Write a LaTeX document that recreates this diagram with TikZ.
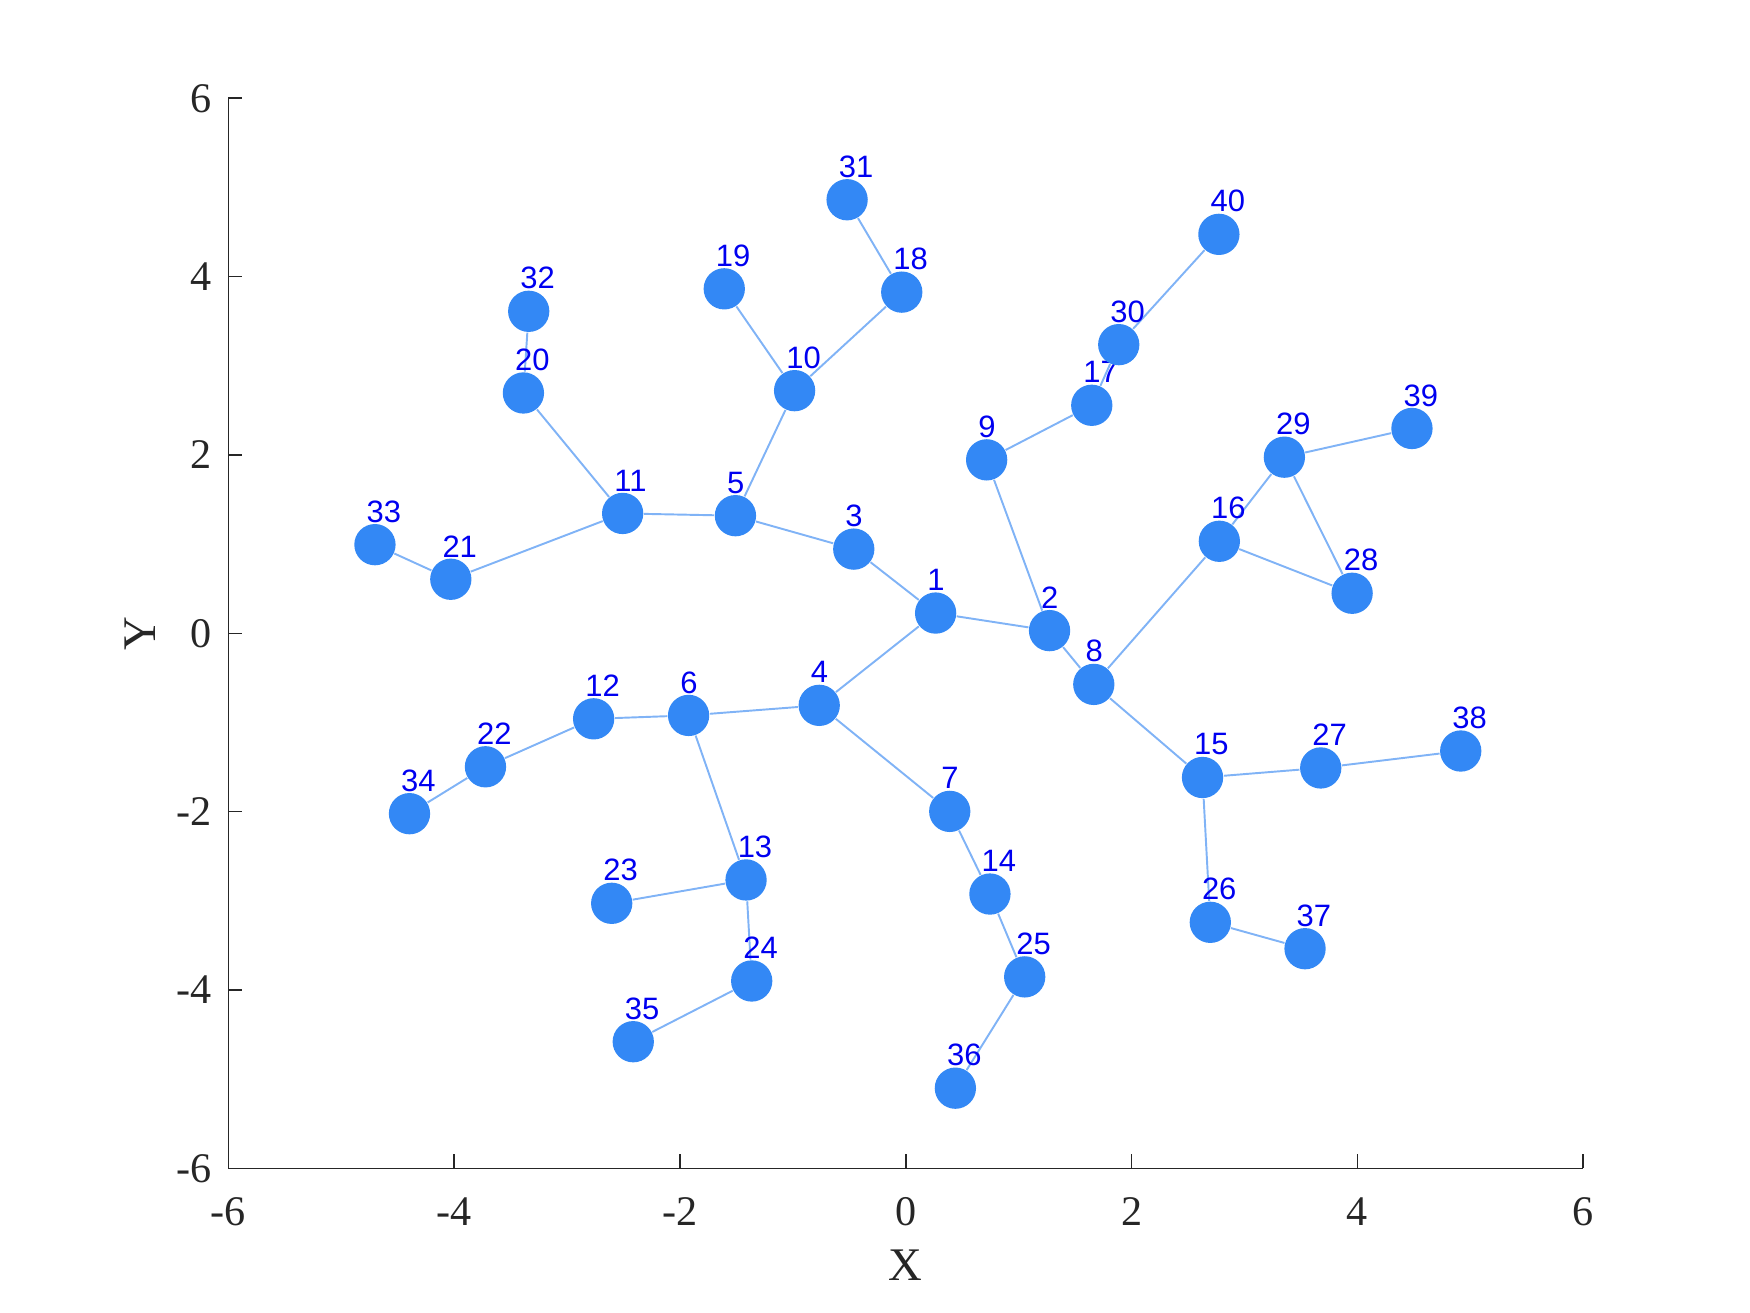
\documentclass[tikz,border=0pt]{standalone}
\usepackage{fontspec}
\setmainfont{Liberation Serif}
\newfontfamily\labelfont{Liberation Sans}
\usepackage{xcolor}
\usepackage{tikz}
\usetikzlibrary{positioning,backgrounds}
\definecolor{GNode}{HTML}{3388F5}
\definecolor{GEdge}{HTML}{80B3F6}
\definecolor{GLabel}{HTML}{0000F0}
\definecolor{GAxis}{HTML}{262626}

\begin{document}
\begin{tikzpicture}[x=1.129cm, y=0.8917cm,
  vtx/.style={circle, fill=GNode, inner sep=0pt, minimum size=0.413cm},
  lbl/.style={anchor=west, inner sep=0pt, text=GLabel, font=\labelfont\fontsize{8.8}{10}\selectfont, xshift=-0.09cm, yshift=0.117cm},
  edge/.style={draw=GEdge, line width=0.55pt},
  axisline/.style={draw=GAxis, line width=0.45pt},
  ticklbl/.style={inner sep=0pt, text=GAxis, font=\fontsize{12}{14}\selectfont},
  axlbl/.style={inner sep=0pt, text=GAxis, font=\fontsize{13.3}{15}\selectfont}]
  \useasboundingbox (-8.023,-7.622) rectangle (7.477,7.102);

  % axes (box off, ticks inward)
  \draw[axisline] (-6,6) -- (-6,-6) -- (6,-6);
  \foreach \t in {-6,-4,...,6} {
    \draw[axisline] (\t,-6) -- ++(0,0.14cm);
    \draw[axisline] (-6,\t) -- ++(0.14cm,0);
    \node[ticklbl, anchor=north] at ([yshift=-0.284cm]\t,-6) {\t};
    \node[ticklbl, anchor=east] at ([xshift=-0.16cm]-6,\t) {\t};
  }
  \node[axlbl] (xlab) at (0,-7.084) {X};
  \node[axlbl, rotate=90] (ylab) at (-6.783,0) {Y};

  % vertices
  \node[vtx, label={[lbl]90:1}] (n1) at (0.264,0.227) {};
  \node[vtx, label={[lbl]90:2}] (n2) at (1.273,0.030) {};
  \node[vtx, label={[lbl]90:3}] (n3) at (-0.461,0.944) {};
  \node[vtx, label={[lbl]90:4}] (n4) at (-0.767,-0.808) {};
  \node[vtx, label={[lbl]90:5}] (n5) at (-1.509,1.319) {};
  \node[vtx, label={[lbl]90:6}] (n6) at (-1.924,-0.921) {};
  \node[vtx, label={[lbl]90:7}] (n7) at (0.389,-1.997) {};
  \node[vtx, label={[lbl]90:8}] (n8) at (1.665,-0.573) {};
  \node[vtx, label={[lbl]90:9}] (n9) at (0.716,1.945) {};
  \node[vtx, label={[lbl]90:10}] (n10) at (-0.985,2.721) {};
  \node[vtx, label={[lbl]90:11}] (n11) at (-2.508,1.344) {};
  \node[vtx, label={[lbl]90:12}] (n12) at (-2.765,-0.959) {};
  \node[vtx, label={[lbl]90:13}] (n13) at (-1.415,-2.766) {};
  \node[vtx, label={[lbl]90:14}] (n14) at (0.745,-2.924) {};
  \node[vtx, label={[lbl]90:15}] (n15) at (2.628,-1.617) {};
  \node[vtx, label={[lbl]90:16}] (n16) at (2.777,1.032) {};
  \node[vtx, label={[lbl]90:17}] (n17) at (1.647,2.557) {};
  \node[vtx, label={[lbl]90:18}] (n18) at (-0.036,3.826) {};
  \node[vtx, label={[lbl]90:19}] (n19) at (-1.608,3.863) {};
  \node[vtx, label={[lbl]90:20}] (n20) at (-3.387,2.695) {};
  \node[vtx, label={[lbl]90:21}] (n21) at (-4.030,0.606) {};
  \node[vtx, label={[lbl]90:22}] (n22) at (-3.723,-1.497) {};
  \node[vtx, label={[lbl]90:23}] (n23) at (-2.605,-3.028) {};
  \node[vtx, label={[lbl]90:24}] (n24) at (-1.365,-3.899) {};
  \node[vtx, label={[lbl]90:25}] (n25) at (1.053,-3.853) {};
  \node[vtx, label={[lbl]90:26}] (n26) at (2.697,-3.241) {};
  \node[vtx, label={[lbl]90:27}] (n27) at (3.675,-1.510) {};
  \node[vtx, label={[lbl]90:28}] (n28) at (3.953,0.449) {};
  \node[vtx, label={[lbl]90:29}] (n29) at (3.353,1.975) {};
  \node[vtx, label={[lbl]90:30}] (n30) at (1.886,3.237) {};
  \node[vtx, label={[lbl]90:31}] (n31) at (-0.520,4.862) {};
  \node[vtx, label={[lbl]90:32}] (n32) at (-3.340,3.611) {};
  \node[vtx, label={[lbl]90:33}] (n33) at (-4.702,0.994) {};
  \node[vtx, label={[lbl]90:34}] (n34) at (-4.396,-2.023) {};
  \node[vtx, label={[lbl]90:35}] (n35) at (-2.414,-4.580) {};
  \node[vtx, label={[lbl]90:36}] (n36) at (0.439,-5.101) {};
  \node[vtx, label={[lbl]90:37}] (n37) at (3.536,-3.537) {};
  \node[vtx, label={[lbl]90:38}] (n38) at (4.915,-1.320) {};
  \node[vtx, label={[lbl]90:39}] (n39) at (4.483,2.297) {};
  \node[vtx, label={[lbl]90:40}] (n40) at (2.773,4.474) {};

  % edges, behind vertices and labels
  \begin{scope}[on background layer]
    \draw[edge] (n1) -- (n2);  \draw[edge] (n1) -- (n3);  \draw[edge] (n1) -- (n4);
    \draw[edge] (n2) -- (n8);  \draw[edge] (n2) -- (n9);  \draw[edge] (n3) -- (n5);
    \draw[edge] (n4) -- (n6);  \draw[edge] (n4) -- (n7);  \draw[edge] (n5) -- (n10);
    \draw[edge] (n5) -- (n11); \draw[edge] (n6) -- (n12); \draw[edge] (n6) -- (n13);
    \draw[edge] (n7) -- (n14); \draw[edge] (n8) -- (n15); \draw[edge] (n8) -- (n16);
    \draw[edge] (n9) -- (n17); \draw[edge] (n10) -- (n18); \draw[edge] (n10) -- (n19);
    \draw[edge] (n11) -- (n20); \draw[edge] (n11) -- (n21); \draw[edge] (n12) -- (n22);
    \draw[edge] (n13) -- (n23); \draw[edge] (n13) -- (n24); \draw[edge] (n14) -- (n25);
    \draw[edge] (n15) -- (n26); \draw[edge] (n15) -- (n27); \draw[edge] (n16) -- (n28);
    \draw[edge] (n16) -- (n29); \draw[edge] (n17) -- (n30); \draw[edge] (n18) -- (n31);
    \draw[edge] (n20) -- (n32); \draw[edge] (n21) -- (n33); \draw[edge] (n22) -- (n34);
    \draw[edge] (n24) -- (n35); \draw[edge] (n25) -- (n36); \draw[edge] (n26) -- (n37);
    \draw[edge] (n27) -- (n38); \draw[edge] (n28) -- (n29); \draw[edge] (n29) -- (n39);
    \draw[edge] (n30) -- (n40);
  \end{scope}
\end{tikzpicture}
\end{document}
